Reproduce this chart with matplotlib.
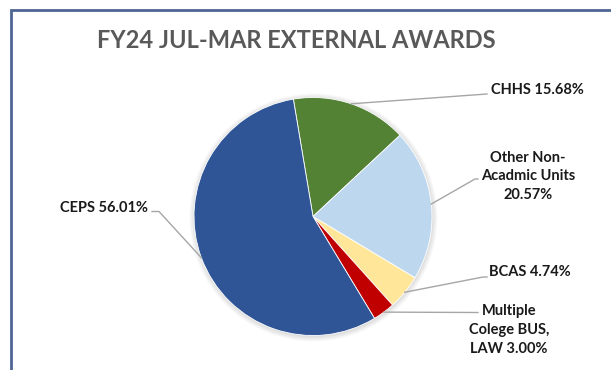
import numpy as np
import matplotlib
matplotlib.use("Agg")
import matplotlib.pyplot as plt
from matplotlib.patches import Circle

# Award shares by unit (percent), clockwise from the first slice
units = ["CHHS", "Other Non-Acadmic Units", "BCAS", "Multiple College BUS, LAW", "CEPS"]
shares = [15.68, 20.57, 4.74, 3.00, 56.01]
label_texts = ["CHHS 15.68%", "Other Non-\nAcadmic Units\n20.57%", "BCAS 4.74%",
               "Multiple\nColege BUS,\nLAW 3.00%", "CEPS 56.01%"]
colors = ["#548235", "#BDD7EE", "#FFE699", "#C00000", "#2F5597"]
title = "FY24 JUL-MAR EXTERNAL AWARDS"

W, H = 611, 370
fig = plt.figure(figsize=(W / 100, H / 100), dpi=100)
ax = fig.add_axes([0, 0, 1, 1])
ax.set_xlim(0, W)
ax.set_ylim(0, H)
ax.set_aspect("equal")
ax.axis("off")

def Y(py):
    return H - py

# chart frame (left and top edges visible)
ax.plot([11, 11, W + 5], [Y(H + 5), Y(10), Y(10)], color="#4F6594", lw=2,
        solid_capstyle="butt", solid_joinstyle="miter")

cx, cy, r = 313, Y(216.5), 119
start = 99.5

# soft shadow under the pie
for k in range(6):
    ax.add_patch(Circle((cx + 0.5, cy - 1), r + 5 - k, color="#000000",
                        alpha=0.025, lw=0, zorder=1))

wedges, _ = ax.pie(shares, colors=colors, startangle=start, counterclock=False,
                   center=(cx, cy), radius=r, frame=False,
                   wedgeprops=dict(linewidth=0.6, edgecolor="white"))
for w in wedges:
    w.set_zorder(2)
ax.set_xlim(0, W)
ax.set_ylim(0, H)
ax.axis("off")

# mid-angle of each slice (degrees, matplotlib convention)
cum = np.cumsum([0] + shares)
mid = [start - 3.6 * (cum[i] + cum[i + 1]) / 2 for i in range(len(shares))]

# leader line elbows and text anchors, in pixel units
layout = [
    dict(path=[(487, 94)], txt=(491, 90), ha="left"),
    dict(path=[(475, 179), (478, 179)], txt=(528, 176.5), ha="center"),
    dict(path=[(483, 277), (487, 277)], txt=(489, 272.5), ha="left"),
    dict(path=[(478, 312.5)], txt=(509, 330), ha="center"),
    dict(path=[(159, 211.5), (152, 211.5)], txt=(148, 207.5), ha="right"),
]

font = ["Lato", "DejaVu Sans"]
for i, (lab, lay) in enumerate(zip(label_texts, layout)):
    a = np.deg2rad(mid[i])
    x0 = cx + r * np.cos(a)
    y0 = cy + r * np.sin(a)
    xs = [x0] + [p[0] for p in lay["path"]]
    ys = [y0] + [Y(p[1]) for p in lay["path"]]
    ax.plot(xs, ys, color="#A6A6A6", lw=1, zorder=3)
    ax.text(lay["txt"][0], Y(lay["txt"][1]), lab, ha=lay["ha"], va="center",
            fontsize=10.5, fontweight="bold", color="#1A1A1A", family=font,
            linespacing=1.45, multialignment="center", zorder=4)

ax.text(296, Y(41), title, ha="center", va="center", fontsize=17,
        fontweight="bold", color="#595959", family=font)

fig.savefig("out.png", dpi=100, facecolor="white")
